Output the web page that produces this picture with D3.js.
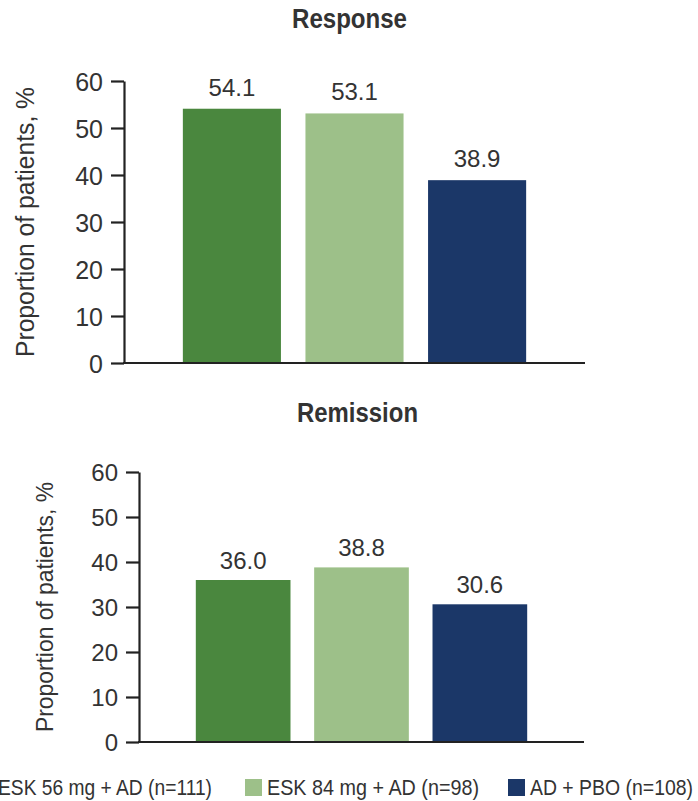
<!DOCTYPE html>
<html>
<head>
<meta charset="utf-8">
<script src="https://cdn.jsdelivr.net/npm/d3@7"></script>
<style>
  html, body { margin: 0; padding: 0; background: #fff; }
  svg { display: block; }
  text { font-family: "Liberation Sans", Arial, sans-serif; fill: #333; }
</style>
</head>
<body>
<svg id="chart" width="698" height="801"></svg>
<script>
// Treatment arms
const groups = ["ESK 56 mg + AD (n=111)", "ESK 84 mg + AD (n=98)", "AD + PBO (n=108)"];
// Proportion of patients (%) per arm
const responseValues = [54.1, 53.1, 38.9];
const remissionValues = [36.0, 38.8, 30.6];
const panelTitles = ["Response", "Remission"];
const yTicks = [0, 10, 20, 30, 40, 50, 60];
const yLabel = "Proportion of patients, %";
const groupColors = ["#4a873e", "#9dc089", "#1b3768"];

const svg = d3.select("#chart");

// Narrow the typeface to a condensed look by fitting text to a set width
function condense(sel, width) {
  sel.attr("textLength", width).attr("lengthAdjust", "spacingAndGlyphs");
}

// Geometry for each panel
const panels = [
  { title: panelTitles[0], values: responseValues, x0: 124, x1: 585, yTop: 81, yBase: 363,
    titleX: 349.5, titleY: 28, titleW: 115, tickSize: 25, valueSize: 24, valueGap: 13,
    labelSize: 26, labelX: 34, labelW: 270 },
  { title: panelTitles[1], values: remissionValues, x0: 139, x1: 584, yTop: 472, yBase: 742,
    titleX: 357.5, titleY: 422, titleW: 121, tickSize: 24, valueSize: 24, valueGap: 11,
    labelSize: 24, labelX: 53, labelW: 250 }
];

panels.forEach(p => {
  const g = svg.append("g");

  const x = d3.scaleBand()
    .domain(groups)
    .range([p.x0, p.x1])
    .paddingInner(0.2)
    .paddingOuter(0.48);

  const y = d3.scaleLinear()
    .domain([0, 60])
    .range([p.yBase, p.yTop]);

  // Bars
  g.selectAll("rect.bar")
    .data(p.values)
    .join("rect")
    .attr("class", "bar")
    .attr("x", (d, i) => x(groups[i]))
    .attr("width", x.bandwidth())
    .attr("y", d => y(d))
    .attr("height", d => y(0) - y(d))
    .attr("fill", (d, i) => groupColors[i]);

  // Value labels
  g.selectAll("text.val")
    .data(p.values)
    .join("text")
    .attr("class", "val")
    .attr("x", (d, i) => x(groups[i]) + x.bandwidth() / 2)
    .attr("y", d => y(d) - p.valueGap)
    .attr("text-anchor", "middle")
    .style("font-size", p.valueSize + "px")
    .text(d => d.toFixed(1));

  // Y axis
  const yAxis = d3.axisLeft(y)
    .tickValues(yTicks)
    .tickSize(13)
    .tickPadding(8)
    .tickSizeOuter(0);
  const ya = g.append("g")
    .attr("transform", `translate(${p.x0},0)`)
    .call(yAxis);
  ya.select(".domain").attr("stroke", "#222").attr("stroke-width", 2.2);
  ya.selectAll(".tick line").attr("stroke", "#222").attr("stroke-width", 2.2);
  ya.selectAll(".tick text")
    .style("font-family", "'Liberation Sans', Arial, sans-serif")
    .style("font-size", p.tickSize + "px")
    .attr("fill", "#333")
    .attr("dy", "0.36em");

  // X baseline
  const xAxis = d3.axisBottom(x).tickSize(0).tickFormat("");
  const xa = g.append("g")
    .attr("transform", `translate(0,${p.yBase})`)
    .call(xAxis);
  xa.select(".domain").attr("stroke", "#222").attr("stroke-width", 2.2)
    .attr("d", `M${p.x0 - 1},0H${p.x1}`);

  // Panel title
  g.append("text")
    .attr("x", p.titleX - p.titleW / 2)
    .attr("y", p.titleY)
    .style("font-size", "27px")
    .style("font-weight", "bold")
    .attr("fill", "#222")
    .text(p.title)
    .call(condense, p.titleW);

  // Y axis title
  g.append("text")
    .attr("transform", `translate(${p.labelX},${(p.yTop + p.yBase) / 2}) rotate(-90)`)
    .attr("x", -p.labelW / 2)
    .style("font-size", p.labelSize + "px")
    .text(yLabel)
    .call(condense, p.labelW);
});

// Legend
const legendX = [-24, 245, 508];
const legendW = [214, 212, 163];
const legend = svg.append("g").attr("transform", "translate(0,779)");
const items = legend.selectAll("g.item")
  .data(groups)
  .join("g")
  .attr("class", "item")
  .attr("transform", (d, i) => `translate(${legendX[i]},0)`);
items.append("rect")
  .attr("width", 17)
  .attr("height", 17)
  .attr("fill", (d, i) => groupColors[i]);
items.append("text")
  .attr("x", 22)
  .attr("y", 15.5)
  .style("font-size", "21.5px")
  .text(d => d)
  .each(function (d, i) { d3.select(this).call(condense, legendW[i]); });
</script>
</body>
</html>
